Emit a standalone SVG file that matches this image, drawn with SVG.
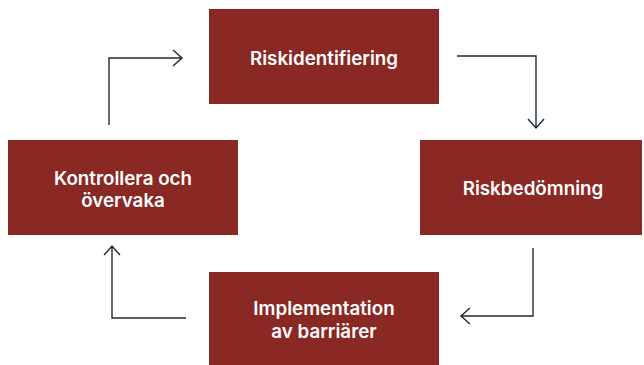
<svg xmlns="http://www.w3.org/2000/svg" width="644" height="365" viewBox="0 0 644 365">
<style>
.box{fill:#8a2824}
.t{fill:#ffffff;font-family:Inter,"Noto Sans",sans-serif;font-weight:600;font-size:18.8px;text-anchor:middle}
.c{fill:none;stroke:#1c2b36;stroke-width:1.4}
</style>
<rect width="644" height="365" fill="#ffffff"/>
<g id="riskidentifiering">
<rect class="box" x="209" y="9" width="230" height="95"/>
<text class="t" x="324" y="65">Riskidentifiering</text>
</g>
<g id="riskbedomning">
<rect class="box" x="420" y="140" width="222" height="95"/>
<text class="t" x="533" y="195">Riskbedömning</text>
</g>
<g id="implementation">
<rect class="box" x="209" y="272" width="230" height="93"/>
<text class="t" x="324" y="315">Implementation</text>
<text class="t" x="324" y="338">av barriärer</text>
</g>
<g id="kontrollera">
<rect class="box" x="8" y="140" width="230" height="95"/>
<text class="t" x="123" y="185">Kontrollera och</text>
<text class="t" x="123" y="207">övervaka</text>
</g>
<g id="connectors">
<path class="c" d="M109 125V58H182M173 50L182 58L173 66"/>
<path class="c" d="M457 56H536V128M528 119L536 128L544 119"/>
<path class="c" d="M533 248V316H461M470 308L461 316L470 324"/>
<path class="c" d="M186 318H112V246M104 255L112 246L120 255"/>
</g>
</svg>
